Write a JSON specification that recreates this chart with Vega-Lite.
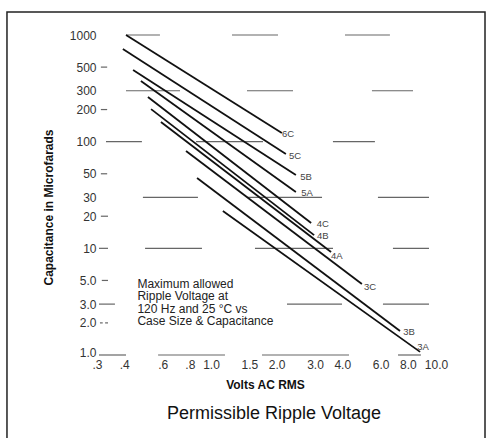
{
  "$schema": "https://vega.github.io/schema/vega-lite/v6.json",
  "width": 332,
  "height": 320,
  "autosize": {"type": "none"},
  "padding": {"left": 99, "top": 35, "right": 62, "bottom": 83},
  "background": "white",
  "config": {"view": {"stroke": null}, "font": "Liberation Sans"},
  "datasets": {
    "frame": [{"x": 0.1135, "x2": 17.69, "y": 1643, "y2": 0.1}],
    "grid": [
      {"y": 1000, "x": 0.399, "x2": 0.571},
      {"y": 1000, "x": 1.222, "x2": 1.987},
      {"y": 1000, "x": 4.03, "x2": 6.48},
      {"y": 500, "x": 0.306, "x2": 0.327},
      {"y": 300, "x": 0.399, "x2": 0.706},
      {"y": 300, "x": 1.432, "x2": 2.328},
      {"y": 300, "x": 5.36, "x2": 8.27},
      {"y": 200, "x": 0.306, "x2": 0.327},
      {"y": 100, "x": 0.323, "x2": 0.472},
      {"y": 100, "x": 0.836, "x2": 1.696},
      {"y": 100, "x": 3.55, "x2": 5.53},
      {"y": 50, "x": 0.306, "x2": 0.327},
      {"y": 30, "x": 0.477, "x2": 0.853},
      {"y": 30, "x": 1.432, "x2": 3.163},
      {"y": 30, "x": 5.71, "x2": 9.79},
      {"y": 20, "x": 0.306, "x2": 0.33},
      {"y": 10, "x": 0.3, "x2": 0.33},
      {"y": 10, "x": 0.488, "x2": 0.89},
      {"y": 10, "x": 1.558, "x2": 3.552},
      {"y": 10, "x": 6.69, "x2": 9.79},
      {"y": 5, "x": 0.309, "x2": 0.33},
      {"y": 3, "x": 0.3, "x2": 0.355},
      {"y": 3, "x": 2.185, "x2": 3.906},
      {"y": 3, "x": 6.02, "x2": 9.79},
      {"y": 2, "x": 0.303, "x2": 0.312},
      {"y": 2, "x": 0.32, "x2": 0.33},
      {"y": 1, "x": 0.3, "x2": 0.399},
      {"y": 1, "x": 0.56, "x2": 1.135},
      {"y": 1, "x": 1.678, "x2": 4.207},
      {"y": 1, "x": 7.06, "x2": 8.99}
    ],
    "lines": [
      {"series": "6C", "x": 0.399, "y": 1000}, {"series": "6C", "x": 2.07, "y": 120.5},
      {"series": "5C", "x": 0.386, "y": 739}, {"series": "5C", "x": 2.16, "y": 76.6},
      {"series": "5B", "x": 0.43, "y": 470}, {"series": "5B", "x": 2.4, "y": 48.7},
      {"series": "5A", "x": 0.467, "y": 370.5}, {"series": "5A", "x": 2.4, "y": 33.7},
      {"series": "4C", "x": 0.503, "y": 262}, {"series": "4C", "x": 2.82, "y": 17.3},
      {"series": "4B", "x": 0.52, "y": 202}, {"series": "4B", "x": 2.91, "y": 13.3},
      {"series": "4A", "x": 0.577, "y": 153}, {"series": "4A", "x": 3.48, "y": 9.24},
      {"series": "3C", "x": 0.752, "y": 81.7}, {"series": "3C", "x": 4.82, "y": 4.63},
      {"series": "3B", "x": 0.845, "y": 45.6}, {"series": "3B", "x": 7.21, "y": 1.68},
      {"series": "3A", "x": 1.11, "y": 22.4}, {"series": "3A", "x": 8.91, "y": 1.07}
    ],
    "labels": [
      {"series": "6C", "x": 2.21, "y": 118},
      {"series": "5C", "x": 2.38, "y": 73.4},
      {"series": "5B", "x": 2.67, "y": 46.7},
      {"series": "5A", "x": 2.7, "y": 33.0},
      {"series": "4C", "x": 3.19, "y": 16.9},
      {"series": "4B", "x": 3.19, "y": 13.05},
      {"series": "4A", "x": 3.7, "y": 8.47},
      {"series": "3C", "x": 5.25, "y": 4.34},
      {"series": "3B", "x": 7.93, "y": 1.64},
      {"series": "3A", "x": 9.19, "y": 1.19}
    ],
    "note": [
      {"x": 0.45, "y": 5.16, "t": ["Maximum allowed", "Ripple Voltage at", "120 Hz and 25 °C vs", "Case Size & Capacitance"]}
    ],
    "heading": [
      {"x": 1.905, "y": 0.28, "t": "Permissible Ripple Voltage"}
    ]
  },
  "encoding": {
    "x": {
      "field": "x",
      "type": "quantitative",
      "scale": {"type": "log", "domain": [0.3, 10]},
      "title": "Volts AC RMS",
      "axis": {
        "values": [0.3, 0.4, 0.6, 0.8, 1, 1.5, 2, 3, 4, 6, 8, 10],
        "labelExpr": "datum.value < 1 ? replace(format(datum.value, '.1f'), '0.', '.') : format(datum.value, '.1f')",
        "domain": false,
        "ticks": false,
        "grid": false,
        "labelFlush": false,
        "labelOverlap": false,
        "labelOffset": {"condition": {"test": "datum.value == 10", "value": 5}, "value": -2},
        "labelPadding": 4,
        "labelFontSize": 12,
        "labelColor": "#333",
        "labelFont": "Liberation Sans",
        "titleFont": "Liberation Sans",
        "titleFontSize": 12,
        "titleFontWeight": "bold",
        "titleColor": "#111",
        "titlePadding": 9
      }
    },
    "y": {
      "field": "y",
      "type": "quantitative",
      "scale": {"type": "log", "domain": [1, 1000]},
      "title": "Capacitance in Microfarads",
      "axis": {
        "values": [1, 2, 3, 5, 10, 20, 30, 50, 100, 200, 300, 500, 1000],
        "labelExpr": "datum.value >= 10 ? format(datum.value, 'd') : format(datum.value, '.1f')",
        "domain": false,
        "ticks": false,
        "grid": false,
        "labelOverlap": false,
        "labelOffset": {"condition": {"test": "datum.value == 1", "value": -3}, "value": 0},
        "labelPadding": 3,
        "labelFontSize": 12,
        "labelColor": "#333",
        "labelFont": "Liberation Sans",
        "titleFont": "Liberation Sans",
        "titleFontSize": 12,
        "titleFontWeight": "bold",
        "titleColor": "#111",
        "titleAngle": -90,
        "titleAlign": "center",
        "titleBaseline": "middle",
        "titleX": -51,
        "titleY": 172
      }
    }
  },
  "layer": [
    {
      "data": {"name": "frame"},
      "mark": {"type": "rect", "fillOpacity": 0, "stroke": "#222", "strokeWidth": 1.5},
      "encoding": {"x2": {"field": "x2"}, "y2": {"field": "y2"}}
    },
    {
      "data": {"name": "grid"},
      "mark": {"type": "rule", "stroke": "#666", "strokeWidth": 1.2},
      "encoding": {"x2": {"field": "x2"}}
    },
    {
      "data": {"name": "lines"},
      "mark": {"type": "line", "stroke": "#111", "strokeWidth": 1.8},
      "encoding": {"detail": {"field": "series", "type": "nominal"}}
    },
    {
      "data": {"name": "labels"},
      "mark": {"type": "text", "fontSize": 9.5, "color": "#444", "align": "center", "baseline": "middle"},
      "encoding": {"text": {"field": "series", "type": "nominal"}}
    },
    {
      "data": {"name": "note"},
      "mark": {"type": "text", "fontSize": 12, "lineHeight": 12.5, "color": "#222", "align": "left", "baseline": "top"},
      "encoding": {"text": {"field": "t", "type": "nominal"}}
    },
    {
      "data": {"name": "heading"},
      "mark": {"type": "text", "fontSize": 18, "color": "#111", "align": "center", "baseline": "middle"},
      "encoding": {"text": {"field": "t", "type": "nominal"}}
    }
  ]
}
